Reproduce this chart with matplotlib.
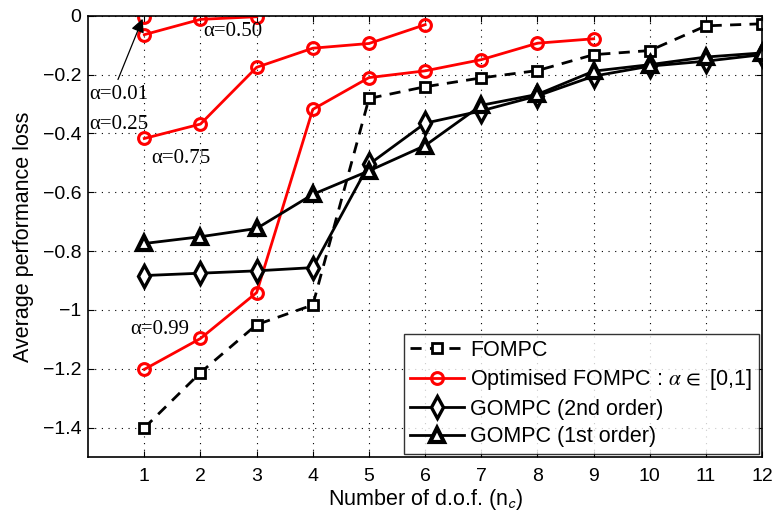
import matplotlib
matplotlib.use("Agg")
import matplotlib.pyplot as plt

plt.rcParams['font.family'] = ['Liberation Sans', 'DejaVu Sans']
plt.rcParams['mathtext.fontset'] = 'stix'

nc = [1, 2, 3, 4, 5, 6, 7, 8, 9, 10, 11, 12]
fompc = [-1.401, -1.213, -1.050, -0.983, -0.281, -0.241, -0.211, -0.186, -0.132, -0.118, -0.034, -0.027]
gompc2 = [-0.883, -0.875, -0.867, -0.856, -0.505, -0.365, -0.323, -0.272, -0.205, -0.171, -0.154, -0.132]
gompc1 = [-0.774, -0.751, -0.723, -0.607, -0.527, -0.441, -0.304, -0.267, -0.188, -0.166, -0.140, -0.126]

opt_a001_x = [1]
opt_a001 = [-0.003]
opt_a050_x = [1, 2, 3]
opt_a050 = [-0.064, -0.012, -0.003]
opt_a025_x = [1, 2, 3, 4, 5, 6]
opt_a025 = [-0.417, -0.368, -0.175, -0.110, -0.094, -0.030]
opt_a099_x = [1, 2, 3, 4, 5, 6, 7, 8, 9]
opt_a099 = [-1.202, -1.097, -0.941, -0.318, -0.210, -0.187, -0.149, -0.093, -0.078]

xticks = list(range(1, 13))
yticks = [0, -0.2, -0.4, -0.6, -0.8, -1.0, -1.2, -1.4]
yticklabels = ['0', '\u22120.2', '\u22120.4', '\u22120.6', '\u22120.8', '\u22121', '\u22121.2', '\u22121.4']

fig = plt.figure(figsize=(7.73, 5.16), dpi=100)
ax = fig.add_axes([0.114, 0.1143, 0.872, 0.855])

lw = 2.0
red = '#ff0000'
l1, = ax.plot(nc, fompc, '--', color='black', lw=lw, marker='s', ms=6.5,
              mfc='white', mec='black', mew=2.0, dashes=(4, 3), label='FOMPC')
l2, = ax.plot(opt_a099_x, opt_a099, '-', color=red, lw=lw, marker='o', ms=8.5,
              mfc='none', mec=red, mew=2.2,
              label=r'Optimised FOMPC : $\alpha\,\in$ [0,1]')
ax.plot(opt_a025_x, opt_a025, '-', color=red, lw=lw, marker='o', ms=8.5,
        mfc='none', mec=red, mew=2.2)
ax.plot(opt_a050_x, opt_a050, '-', color=red, lw=lw, marker='o', ms=8.5,
        mfc='none', mec=red, mew=2.2)
ax.plot(opt_a001_x, opt_a001, '-', color=red, lw=lw, marker='o', ms=8.5,
        mfc='none', mec=red, mew=2.2)
l3, = ax.plot(nc, gompc2, '-', color='black', lw=lw, marker='d', ms=11,
              mfc='white', mec='black', mew=2.4, label='GOMPC (2nd order)')
l4, = ax.plot(nc, gompc1, '-', color='black', lw=lw, marker='^', ms=10,
              mfc='white', mec='black', mew=3.0, label='GOMPC (1st order)')

ax.set_xlim(0, 12)
ax.set_ylim(-1.5, 0)
ax.set_xticks(xticks)
ax.set_yticks(yticks)
ax.set_yticklabels(yticklabels)
ax.tick_params(direction='in', labelsize=14, length=4, width=0.8,
               top=True, right=True)
ax.tick_params(axis='x', pad=8)
ax.tick_params(axis='y', pad=5)
ax.grid(True, color='black', linestyle=(0, (1, 5)), linewidth=0.8)
for s in ax.spines.values():
    s.set_linewidth(1.2)

ax.set_xlabel(r'Number of d.o.f. (n$_{\mathsf{c}}$)', fontsize=15.5, labelpad=1)
ax.set_ylabel('Average performance loss', fontsize=15.5, labelpad=6)

tf = dict(family=['Liberation Serif', 'DejaVu Serif'], fontsize=15, color='black')
ax.text(2.05, -0.054, '\u03b1=0.50', va='center', ha='left', **tf)
ax.text(0.75, -1.068, '\u03b1=0.99', va='center', ha='left', **tf)
ax.text(0.02, -0.368, '\u03b1=0.25', va='center', ha='left', **tf)
ax.text(1.12, -0.486, '\u03b1=0.75', va='center', ha='left', **tf)
ax.annotate('\u03b1=0.01', xy=(0.97, -0.01), xytext=(0.02, -0.267),
            va='center', ha='left', **tf,
            arrowprops=dict(arrowstyle='-|>', color='black', lw=0.9,
                            mutation_scale=20, shrinkA=2, shrinkB=0,
                            relpos=(0.45, 1.0)))

leg = ax.legend(handles=[l1, l2, l3, l4], loc='lower right', fontsize=15.5,
                frameon=True, fancybox=False, edgecolor='black',
                borderaxespad=0.15, handlelength=2.5, handletextpad=0.3,
                labelspacing=0.3, borderpad=0.3)
leg.get_frame().set_linewidth(1.0)

fig.savefig('out.png', dpi=100)
